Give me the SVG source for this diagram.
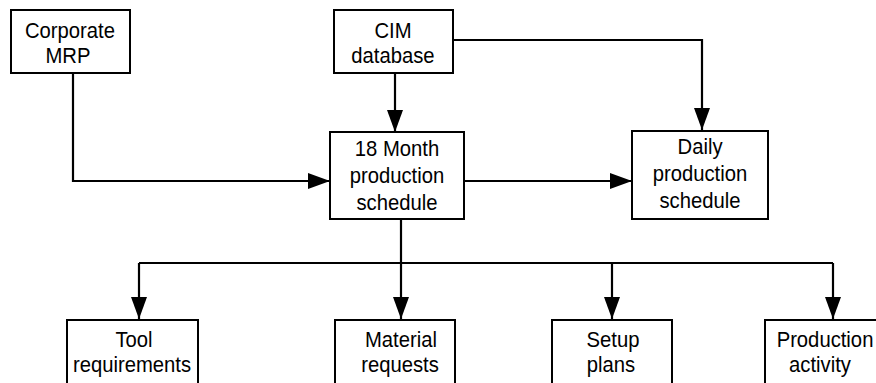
<svg xmlns="http://www.w3.org/2000/svg" width="876" height="383" viewBox="0 0 876 383">
<defs>
<marker id="ah" markerWidth="22" markerHeight="16" refX="22" refY="8" orient="auto" markerUnits="userSpaceOnUse">
<path d="M0,0 L22,8 L0,16 Z" fill="#000"/>
</marker>
<style>
.box{fill:#fff;stroke:#000;stroke-width:2}
.t{font-family:"Liberation Sans",Arial,sans-serif;font-size:22.5px;fill:#000;text-anchor:middle}
.c{fill:none;stroke:#000;stroke-width:2.2}
</style>
</defs>
<rect width="876" height="383" fill="#fff"/>
<g id="connectors">
<path class="c" d="M73,73 V181 H330" marker-end="url(#ah)"/>
<path class="c" d="M395,73 V132" marker-end="url(#ah)"/>
<path class="c" d="M453,40 H702 V130" marker-end="url(#ah)"/>
<path class="c" d="M464,181 H632" marker-end="url(#ah)"/>
<path class="c" d="M401,219 V319" marker-end="url(#ah)"/>
<path class="c" d="M139,263 H833"/>
<path class="c" d="M139,263 V319" marker-end="url(#ah)"/>
<path class="c" d="M612,263 V319" marker-end="url(#ah)"/>
<path class="c" d="M833,263 V319" marker-end="url(#ah)"/>
</g>
<g id="corporate-mrp">
<rect class="box" x="11" y="10" width="119" height="63"/>
<text class="t" transform="translate(70,38) scale(0.9,1)">Corporate</text>
<text class="t" transform="translate(68,63) scale(0.9,1)">MRP</text>
</g>
<g id="cim-database">
<rect class="box" x="334" y="10" width="119" height="63"/>
<text class="t" transform="translate(393,38) scale(0.9,1)">CIM</text>
<text class="t" transform="translate(393,63) scale(0.9,1)">database</text>
</g>
<g id="month-schedule">
<rect class="box" x="330" y="132" width="134" height="87"/>
<text class="t" transform="translate(397,156) scale(0.9,1)">18 Month</text>
<text class="t" transform="translate(397,183) scale(0.9,1)">production</text>
<text class="t" transform="translate(397,210) scale(0.9,1)">schedule</text>
</g>
<g id="daily-schedule">
<rect class="box" x="632" y="131" width="136" height="88"/>
<text class="t" transform="translate(700,154) scale(0.9,1)">Daily</text>
<text class="t" transform="translate(700,181) scale(0.9,1)">production</text>
<text class="t" transform="translate(700,208) scale(0.9,1)">schedule</text>
</g>
<g id="tool-requirements">
<rect class="box" x="67" y="320" width="131" height="80"/>
<text class="t" transform="translate(134,347) scale(0.9,1)">Tool</text>
<text class="t" transform="translate(132,372) scale(0.9,1)">requirements</text>
</g>
<g id="material-requests">
<rect class="box" x="335" y="320" width="120" height="80"/>
<text class="t" transform="translate(401,347) scale(0.9,1)">Material</text>
<text class="t" transform="translate(400,372) scale(0.9,1)">requests</text>
</g>
<g id="setup-plans">
<rect class="box" x="552" y="320" width="120" height="80"/>
<text class="t" transform="translate(613,347) scale(0.9,1)">Setup</text>
<text class="t" transform="translate(611,372) scale(0.9,1)">plans</text>
</g>
<g id="production-activity">
<rect class="box" x="765" y="320" width="121" height="80"/>
<text class="t" transform="translate(825,347) scale(0.9,1)">Production</text>
<text class="t" transform="translate(820,372) scale(0.9,1)">activity</text>
</g>
</svg>
